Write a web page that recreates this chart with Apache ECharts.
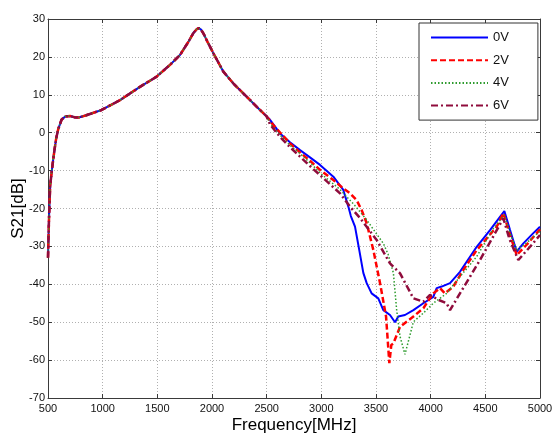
<!DOCTYPE html>
<html>
<head>
<meta charset="utf-8">
<script src="https://cdn.jsdelivr.net/npm/echarts@6/dist/echarts.min.js"></script>
<style>
  html, body { margin: 0; padding: 0; background: #fff; }
  #chart { width: 554px; height: 436px; }
</style>
</head>
<body>
<div id="chart"></div>
<script>
// shared part of all four curves (500 - 2500 MHz)
var freqCommon = [500, 506, 512, 520, 535, 548, 562, 575, 594, 625, 660, 700, 740, 780, 850, 990, 1159, 1341, 1494, 1616, 1707, 1780, 1830, 1860, 1880, 1900, 1925, 1960, 2012, 2104, 2195, 2317, 2439, 2500];
var valCommon  = [-33, -26, -20, -14, -10, -7, -4, -1.5, 1, 3.5, 4.3, 4.4, 4.1, 4.0, 4.6, 6.0, 8.6, 12.1, 14.8, 17.9, 20.5, 23.8, 26.3, 27.3, 27.6, 27.2, 26, 23.9, 21, 16.1, 13, 9.5, 6, 4.3];

// 0V
var freq0V = [2531, 2622, 2713, 2805, 2896, 2988, 3110, 3201, 3247, 3270, 3308, 3347, 3384, 3415, 3460, 3521, 3567, 3628, 3674, 3704, 3765, 3842, 3933, 4024, 4055, 4100, 4177, 4268, 4421, 4543, 4634, 4674, 4726, 4787, 4848, 4939, 5000];
var val0V  = [3.4, -0.2, -2.5, -4.6, -6.5, -8.5, -11.6, -15.1, -19.5, -22, -24.8, -31, -37, -39.7, -42.4, -43.7, -46.8, -48.1, -50, -48.5, -48.1, -46.8, -45, -43.3, -41, -40.6, -39.7, -36.7, -30.1, -25.7, -22.2, -20.7, -25.7, -31.4, -29.2, -26.5, -24.8];

// 2V
var freq2V = [2561, 2713, 2805, 2896, 2988, 3110, 3201, 3262, 3323, 3370, 3415, 3476, 3537, 3592, 3622, 3640, 3659, 3720, 3842, 3933, 4024, 4085, 4131, 4207, 4299, 4421, 4604, 4665, 4726, 4787, 4880, 4970, 5000];
var val2V  = [2.0, -2.8, -5.2, -7.4, -9.8, -12.5, -14.7, -16, -17.8, -20.5, -23.9, -31, -39.7, -48.5, -60.8, -56, -55.6, -51.2, -48.5, -46.3, -42.4, -41, -42.4, -40.6, -36.2, -31, -24.8, -21.2, -27, -32.3, -29.5, -26.5, -25.5];

// 4V
var freq4V = [2531, 2622, 2713, 2805, 2896, 2988, 3171, 3300, 3415, 3500, 3567, 3610, 3659, 3689, 3720, 3765, 3842, 3933, 4024, 4146, 4268, 4421, 4573, 4674, 4726, 4787, 4880, 5000];
var val4V  = [2.4, -0.6, -3.3, -5.5, -7.9, -10.6, -15, -19, -23, -26.5, -29.2, -32, -37, -46.8, -53.8, -58.5, -49.9, -47.6, -45, -42.4, -38, -32.7, -25.3, -21.7, -26.5, -31, -29, -26];

// 6V
var freq6V = [2531, 2622, 2713, 2805, 2896, 2988, 3171, 3262, 3354, 3506, 3628, 3720, 3842, 3933, 3994, 4070, 4146, 4177, 4268, 4360, 4451, 4665, 4720, 4802, 4909, 5000];
var val6V  = [2.2, -1.1, -3.8, -6.3, -8.8, -11.2, -16, -19.5, -22.5, -28.3, -34.5, -37.1, -43.7, -44.6, -42.8, -44.1, -45, -46.8, -42.4, -38, -33.6, -22.6, -28, -33.6, -30.1, -27];

var seriesNames = ['0V', '2V', '4V', '6V'];

function pairs(f, v) {
    var all = [];
    for (var i = 0; i < freqCommon.length; i++) all.push([freqCommon[i], valCommon[i]]);
    for (var j = 0; j < f.length; j++) all.push([f[j], v[j]]);
    return all;
}

var font = 'Liberation Sans, Arial, sans-serif';
var boxColor = '#3a3a3a';

var chart = echarts.init(document.getElementById('chart'));

var mkLine = function (name, data, color, width, type) {
    return {
        name: name,
        type: 'line',
        data: data,
        showSymbol: false,
        symbol: 'none',
        smooth: false,
        animation: false,
        lineStyle: { color: color, width: width, type: type },
        itemStyle: { color: color }
    };
};

var plainLabel = function (v) { return String(v); };

var option = {
    animation: false,
    backgroundColor: '#fff',
    grid: { left: 48, top: 19, right: 14, bottom: 38, containLabel: false, outerBoundsMode: 'none' },
    legend: {
        orient: 'vertical',
        left: 419,
        top: 23,
        padding: [8, 29, 8, 11],
        itemWidth: 57,
        itemHeight: 14,
        itemGap: 9.7,
        backgroundColor: '#fff',
        borderColor: '#333',
        borderWidth: 1,
        borderRadius: 0,
        itemStyle: { opacity: 0 },
        textStyle: { fontFamily: font, fontSize: 13, color: '#111', padding: [0, 0, 0, 0] },
        data: seriesNames
    },
    xAxis: [{
        type: 'value',
        min: 500, max: 5000, interval: 500,
        name: 'Frequency[MHz]',
        nameLocation: 'middle',
        nameGap: 19,
        nameMoveOverlap: false,
        nameTextStyle: { fontFamily: font, fontSize: 17, color: '#000' },
        axisLine: { show: true, onZero: false, lineStyle: { color: boxColor, width: 1 } },
        axisTick: { show: true, inside: true, length: 4, lineStyle: { color: boxColor } },
        axisLabel: { fontFamily: font, fontSize: 11, color: '#111', margin: 5, formatter: plainLabel },
        splitLine: { show: true, lineStyle: { color: '#b0b0b0', type: [1, 2], width: 1 } }
    }, {
        type: 'value',
        position: 'top',
        min: 500, max: 5000, interval: 500,
        axisLine: { show: true, onZero: false, lineStyle: { color: boxColor, width: 1 } },
        axisTick: { show: true, inside: true, length: 4, lineStyle: { color: boxColor } },
        axisLabel: { show: false },
        splitLine: { show: false }
    }],
    yAxis: [{
        type: 'value',
        min: -70, max: 30, interval: 10,
        name: 'S21[dB]',
        nameLocation: 'middle',
        nameGap: 21,
        nameMoveOverlap: false,
        nameTextStyle: { fontFamily: font, fontSize: 17, color: '#000' },
        axisLine: { show: true, onZero: false, lineStyle: { color: boxColor, width: 1 } },
        axisTick: { show: true, inside: true, length: 4, lineStyle: { color: boxColor } },
        axisLabel: { fontFamily: font, fontSize: 11, color: '#111', margin: 3, formatter: plainLabel },
        splitLine: { show: true, lineStyle: { color: '#b0b0b0', type: [1, 2], width: 1 } }
    }, {
        type: 'value',
        position: 'right',
        min: -70, max: 30, interval: 10,
        axisLine: { show: true, onZero: false, lineStyle: { color: boxColor, width: 1 } },
        axisTick: { show: true, inside: true, length: 4, lineStyle: { color: boxColor } },
        axisLabel: { show: false },
        splitLine: { show: false }
    }],
    series: [
        mkLine('0V', pairs(freq0V, val0V), '#0000ff', 2, 'solid'),
        mkLine('2V', pairs(freq2V, val2V), '#ff0000', 2.5, [6, 3]),
        mkLine('4V', pairs(freq4V, val4V), '#2e9b2e', 1.5, [1.5, 2]),
        mkLine('6V', pairs(freq6V, val6V), '#8f0c3c', 2.5, [7, 3, 2, 3])
    ]
};

chart.setOption(option);
</script>
</body>
</html>
